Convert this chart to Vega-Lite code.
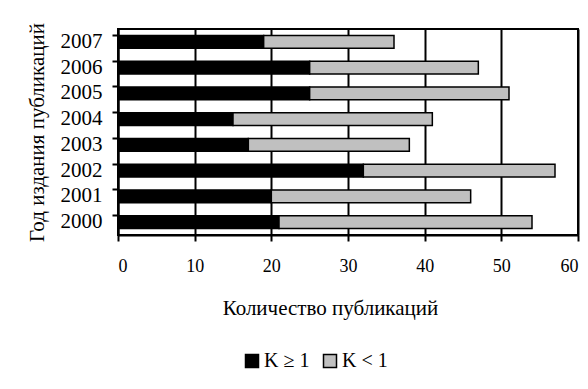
{
  "$schema": "https://vega.github.io/schema/vega-lite/v6.json",
  "width": 460,
  "height": 206,
  "autosize": "none",
  "padding": {"left": 118, "top": 29, "right": 10, "bottom": 154},
  "background": "white",
  "data": {
    "values": [
      {"year": "2000", "type": "K ≥ 1", "order": 1, "value": 21},
      {"year": "2000", "type": "K < 1", "order": 2, "value": 33},
      {"year": "2001", "type": "K ≥ 1", "order": 1, "value": 20},
      {"year": "2001", "type": "K < 1", "order": 2, "value": 26},
      {"year": "2002", "type": "K ≥ 1", "order": 1, "value": 32},
      {"year": "2002", "type": "K < 1", "order": 2, "value": 25},
      {"year": "2003", "type": "K ≥ 1", "order": 1, "value": 17},
      {"year": "2003", "type": "K < 1", "order": 2, "value": 21},
      {"year": "2004", "type": "K ≥ 1", "order": 1, "value": 15},
      {"year": "2004", "type": "K < 1", "order": 2, "value": 26},
      {"year": "2005", "type": "K ≥ 1", "order": 1, "value": 25},
      {"year": "2005", "type": "K < 1", "order": 2, "value": 26},
      {"year": "2006", "type": "K ≥ 1", "order": 1, "value": 25},
      {"year": "2006", "type": "K < 1", "order": 2, "value": 22},
      {"year": "2007", "type": "K ≥ 1", "order": 1, "value": 19},
      {"year": "2007", "type": "K < 1", "order": 2, "value": 17}
    ]
  },
  "mark": {"type": "bar", "stroke": "black", "strokeWidth": 1.5},
  "encoding": {
    "y": {
      "field": "year", "type": "nominal", "sort": "descending",
      "scale": {"paddingInner": 0.5, "paddingOuter": 0.25},
      "axis": {
        "title": "Год издания публикаций",
        "bandPosition": 0,
        "tickSize": 6, "tickWidth": 2, "domainWidth": 2,
        "labelPadding": 10, "titlePadding": 13,
        "labelFontSize": 21, "titleFontSize": 21,
        "grid": false
      }
    },
    "x": {
      "field": "value", "type": "quantitative", "stack": "zero",
      "scale": {"domain": [0, 60], "nice": false},
      "axis": {
        "title": "Количество публикаций",
        "values": [0, 10, 20, 30, 40, 50, 60],
        "tickSize": 6, "tickWidth": 2, "domainWidth": 2,
        "labelPadding": 16, "titlePadding": 22,
        "labelFontSize": 18, "titleFontSize": 21,
        "titleX": 212,
        "grid": true, "gridColor": "black", "gridWidth": 2, "gridOpacity": 1
      }
    },
    "color": {
      "field": "type", "type": "nominal",
      "scale": {"domain": ["K ≥ 1", "K < 1"], "range": ["#000000", "#c0c0c0"]},
      "legend": {
        "title": null, "orient": "none", "direction": "horizontal",
        "legendX": 124, "legendY": 322,
        "symbolType": "square", "symbolSize": 169, "symbolStrokeColor": "black",
        "symbolStrokeWidth": 1.5, "symbolOpacity": 1,
        "labelFontSize": 20, "labelFont": "Liberation Serif", "labelColor": "black",
        "columnPadding": 10, "labelOffset": 2
      }
    },
    "order": {"field": "order", "type": "quantitative"}
  },
  "config": {
    "view": {"stroke": "black", "strokeWidth": 2},
    "axis": {
      "labelFont": "Liberation Serif", "titleFont": "Liberation Serif",
      "titleFontWeight": "normal",
      "labelColor": "black", "titleColor": "black",
      "domainColor": "black", "tickColor": "black"
    }
  }
}
